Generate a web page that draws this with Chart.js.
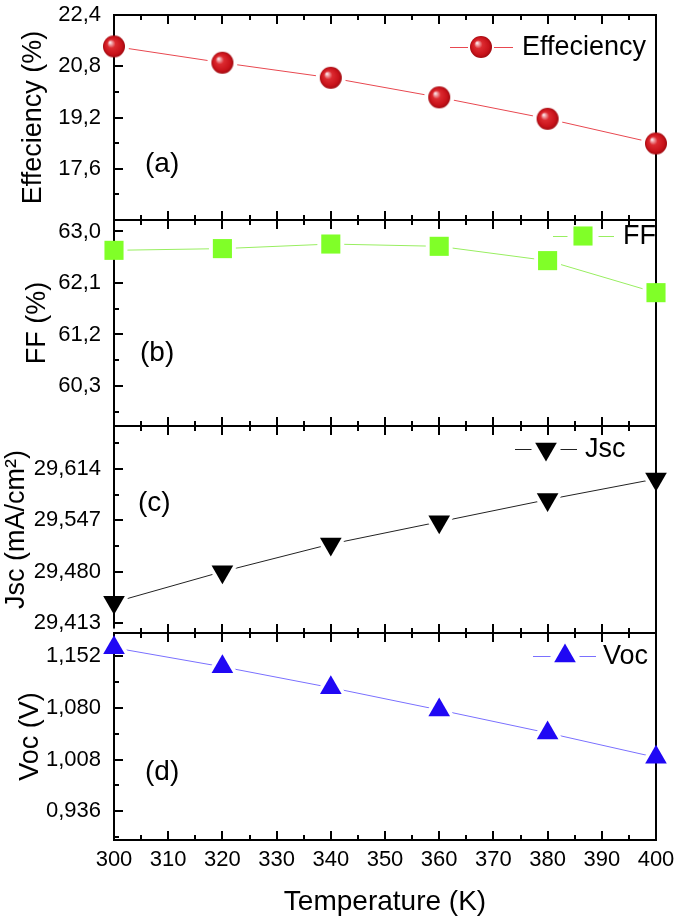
<!DOCTYPE html>
<html><head><meta charset="utf-8">
<script src="https://cdn.jsdelivr.net/npm/chart.js@4.4.0/dist/chart.umd.min.js"></script>
<style>
html,body{margin:0;padding:0;background:#fff;width:677px;height:921px;overflow:hidden}
canvas{position:absolute;left:0;top:0}
</style></head>
<body>
<canvas id="c0" width="677" height="921"></canvas>
<canvas id="c1" width="677" height="921"></canvas>
<canvas id="c2" width="677" height="921"></canvas>
<canvas id="c3" width="677" height="921"></canvas>
<script>
// ---- data ----
const temperatures = [300, 320, 340, 360, 380, 400];
const efficiency = [21.42, 20.91, 20.44, 19.83, 19.16, 18.39];
const fillFactor = [62.67, 62.70, 62.78, 62.74, 62.49, 61.93];
const jscValues = [29.440, 29.480, 29.516, 29.545, 29.574, 29.601];
const vocValues = [1.1635, 1.137, 1.108, 1.077, 1.045, 1.011];
const xTicks = [300, 310, 320, 330, 340, 350, 360, 370, 380, 390, 400];
const effTicks = [17.6, 19.2, 20.8, 22.4];
const ffTicks = [60.3, 61.2, 62.1, 63.0];
const jscTicks = [29.413, 29.480, 29.547, 29.614];
const vocTicks = [0.936, 1.008, 1.080, 1.152];

const FONT = "'Liberation Sans', Arial, sans-serif";

function makeSphere(r) {
  const s = Math.ceil(r * 2) + 2;
  const c = document.createElement('canvas');
  c.width = s; c.height = s;
  const g = c.getContext('2d');
  const cx = s / 2, cy = s / 2;
  const grad = g.createRadialGradient(cx - r * 0.38, cy - r * 0.38, 0, cx, cy, r);
  grad.addColorStop(0, '#ffffff');
  grad.addColorStop(0.12, '#f4b8bc');
  grad.addColorStop(0.38, '#dc2a30');
  grad.addColorStop(0.8, '#c8121a');
  grad.addColorStop(1, '#a00a10');
  g.fillStyle = grad;
  g.beginPath(); g.arc(cx, cy, r, 0, Math.PI * 2); g.fill();
  return c;
}
const sphere = makeSphere(11);

function midpoints(arr, min, max) {
  const step = arr[1] - arr[0];
  const out = arr.map(v => v - step / 2).concat([arr[arr.length - 1] + step / 2]);
  return out.filter(v => v > min + 1e-9 && v < max - 1e-9);
}

const panels = [
  {id: 'c0', values: efficiency, majors: effTicks, min: 16.0, max: 22.4, dec: 1,
   title: 'Effeciency (%)', titlePad: 17, label: '(a)', labelPos: [145, 149],
   legend: 'Effeciency', legendPos: [175, 32, 31, 32, 41],
   style: sphere, haloStyle: 'circle', rot: 0, radius: 11, haloRadius: 15,
   color: '#d0141c', lineColor: '#e84850', top: 13, bottom: 220, showX: false},
  {id: 'c1', values: fillFactor, majors: ffTicks, min: 59.6, max: 63.2, dec: 1,
   title: 'FF (%)', titlePad: 21, label: '(b)', labelPos: [140, 133],
   legend: 'FF', legendPos: [73, 16, 30, 31, 40],
   style: 'rect', haloStyle: 'rect', rot: 0, radius: 13.5, haloRadius: 19,
   color: '#80ff28', lineColor: '#98ee60', top: 220, bottom: 426, showX: false},
  {id: 'c2', values: jscValues, majors: jscTicks, min: 29.400, max: 29.670, dec: 3,
   title: 'Jsc (mA/cm²)', titlePad: 0, label: '(c)', labelPos: [138, 77],
   legend: 'Jsc', legendPos: [110, 23, 31, 31, 39],
   style: 'triangle', haloStyle: 'triangle', rot: 180, radius: 12.5, haloRadius: 20,
   color: '#000000', lineColor: '#222222', top: 426, bottom: 633, showX: false},
  {id: 'c3', values: vocValues, majors: vocTicks, min: 0.896, max: 1.184, dec: 3,
   title: 'Voc (V)', titlePad: 14, label: '(d)', labelPos: [145, 139],
   legend: 'Voc', legendPos: [91, 23, 32, 31, 38],
   style: 'triangle', haloStyle: 'triangle', rot: 0, radius: 12.5, haloRadius: 20,
   color: '#2008f4', lineColor: '#7a70ff', top: 633, bottom: 840, showX: true}
];

function drawMarker(ctx, p, x, y) {
  ctx.save();
  ctx.fillStyle = p.color;
  ctx.strokeStyle = p.color;
  Chart.helpers.drawPoint(ctx, {pointStyle: p.style, rotation: p.rot, radius: p.radius, borderWidth: 0}, x, y);
  ctx.restore();
}

function framePlugin(p) {
  return {
    id: 'frame' + p.id,
    beforeDatasetDraw(chart, args) {
      if (args.index !== 0) return;
      const ctx = chart.ctx, a = chart.chartArea;
      const xs = chart.scales.x, ys = chart.scales.y;
      ctx.save();
      ctx.strokeStyle = '#000';
      ctx.lineWidth = 2;
      ctx.strokeRect(a.left, a.top, a.right - a.left, a.bottom - a.top);
      ctx.beginPath();
      const xMinor = midpoints(xTicks, 300, 400);
      xTicks.forEach(v => {
        const x = Math.round(xs.getPixelForValue(v));
        ctx.moveTo(x, a.top); ctx.lineTo(x, a.top + 9);
        ctx.moveTo(x, a.bottom); ctx.lineTo(x, a.bottom - 9);
      });
      xMinor.forEach(v => {
        const x = Math.round(xs.getPixelForValue(v));
        ctx.moveTo(x, a.top); ctx.lineTo(x, a.top + 5);
        ctx.moveTo(x, a.bottom); ctx.lineTo(x, a.bottom - 5);
      });
      p.majors.forEach(v => {
        const y = Math.round(ys.getPixelForValue(v));
        ctx.moveTo(a.left, y); ctx.lineTo(a.left + 9, y);
      });
      midpoints(p.majors, p.min, p.max).forEach(v => {
        const y = Math.round(ys.getPixelForValue(v));
        ctx.moveTo(a.left, y); ctx.lineTo(a.left + 5, y);
      });
      ctx.stroke();
      ctx.restore();
    },
    afterDatasetsDraw(chart) {
      const ctx = chart.ctx, a = chart.chartArea;
      const [dx, dy, l1, l2, tx] = p.legendPos;
      const mx = a.right - dx, my = a.top + dy;
      ctx.save();
      ctx.strokeStyle = p.lineColor;
      ctx.lineWidth = 1;
      const gap = p.radius + 4;
      ctx.beginPath();
      ctx.moveTo(mx - l1, my + 0.5); ctx.lineTo(mx - gap + 2, my + 0.5);
      ctx.moveTo(mx + gap - 2, my + 0.5); ctx.lineTo(mx + l2, my + 0.5);
      ctx.stroke();
      drawMarker(ctx, p, mx, my);
      ctx.fillStyle = '#000';
      ctx.font = '27px ' + FONT;
      ctx.textBaseline = 'middle';
      ctx.textAlign = 'left';
      ctx.fillText(p.legend, mx + tx, my + 1);
      ctx.font = '28px ' + FONT;
      ctx.fillText(p.label, p.labelPos[0], a.top + p.labelPos[1]);
      ctx.restore();
    }
  };
}

panels.forEach(p => {
  const pts = temperatures.map((t, i) => ({x: t, y: p.values[i]}));
  new Chart(document.getElementById(p.id), {
    type: 'line',
    data: {
      datasets: [
        {label: p.legend, data: pts, order: 0, showLine: false, clip: false,
         pointStyle: p.style, pointRotation: p.rot, pointRadius: p.radius,
         pointBackgroundColor: p.color, pointBorderWidth: 0, pointBorderColor: p.color},
        {label: 'halo', data: pts, order: 1, showLine: false, clip: false,
         pointStyle: p.haloStyle, pointRotation: p.rot, pointRadius: p.haloRadius,
         pointBackgroundColor: '#ffffff', pointBorderWidth: 0},
        {label: 'line', data: pts, order: 2, showLine: true, clip: false,
         borderColor: p.lineColor, borderWidth: 1, pointRadius: 0, tension: 0, fill: false}
      ]
    },
    options: {
      responsive: false,
      animation: false,
      events: [],
      layout: {padding: {left: 0, right: 21, top: p.top, bottom: p.showX ? 0 : 921 - p.bottom}},
      plugins: {legend: {display: false}, tooltip: {enabled: false}},
      scales: {
        x: {
          type: 'linear', min: 300, max: 400, display: p.showX,
          afterBuildTicks: s => { s.ticks = xTicks.map(v => ({value: v})); },
          afterFit: s => {
            if (p.showX) s.height = 921 - p.bottom;
            s.paddingLeft = 0; s.paddingRight = 0;
          },
          grid: {display: false, drawTicks: false},
          border: {display: false},
          ticks: {color: '#000', font: {family: FONT, size: 22}, padding: 7, maxRotation: 0,
                  autoSkip: false, callback: v => String(v)},
          title: {display: true, text: 'Temperature (K)', color: '#000',
                  font: {family: FONT, size: 28}, padding: {top: 0, bottom: 2}}
        },
        y: {
          type: 'linear', min: p.min, max: p.max,
          afterBuildTicks: s => { s.ticks = p.majors.map(v => ({value: v})); },
          afterFit: s => { s.width = 114; s.paddingTop = 0; s.paddingBottom = 0; },
          grid: {display: false, drawTicks: false},
          border: {display: false},
          ticks: {color: '#000', font: {family: FONT, size: 22}, padding: 13, autoSkip: false,
                  callback: v => v.toFixed(p.dec).replace('.', ',')},
          title: {display: true, text: p.title, color: '#000',
                  font: {family: FONT, size: 27}, padding: {top: p.titlePad, bottom: 0}}
        }
      }
    },
    plugins: [framePlugin(p)]
  });
});
</script>
</body></html>
